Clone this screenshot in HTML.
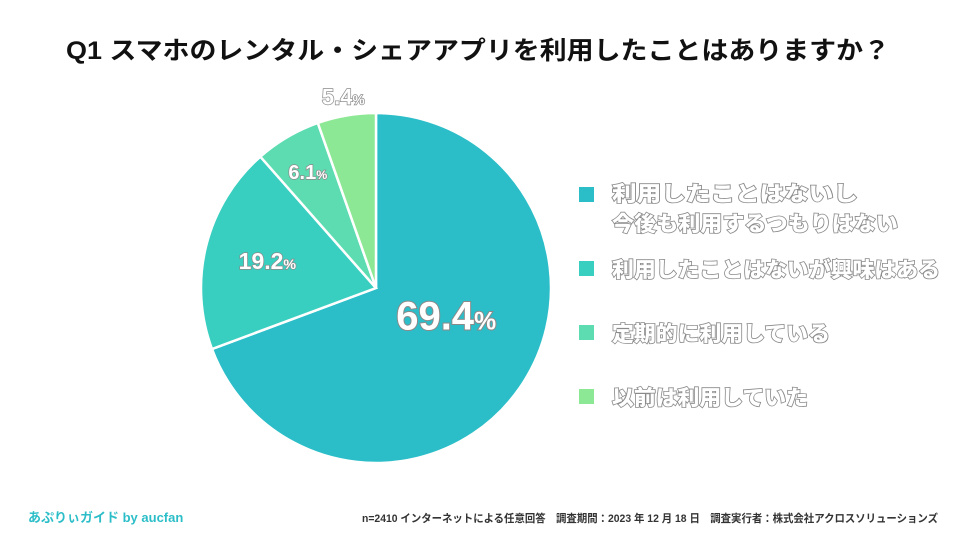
<!DOCTYPE html>
<html><head><meta charset="utf-8"><style>
html,body{margin:0;padding:0;background:#fff;}
svg{display:block;font-family:"Liberation Sans","Noto Sans CJK JP",sans-serif;}
.ol{fill:#fff;stroke:#8a8a8a;stroke-width:1.6;paint-order:stroke;font-weight:900;}
</style></head><body>
<svg width="961" height="541" viewBox="0 0 961 541">
<text x="66" y="59" font-size="25" font-weight="bold" fill="#111" textLength="824" lengthAdjust="spacingAndGlyphs">Q1 スマホのレンタル・シェアアプリを利用したことはありますか？</text>
<g id="slices"></g>
<g id="labels"></g>
<g>
<rect x="579" y="187" width="15" height="15" fill="#2bbec8"/>
<text class="ol" x="612" y="201" font-size="21" textLength="246" lengthAdjust="spacingAndGlyphs">利用したことはないし</text>
<text class="ol" x="612" y="231" font-size="21" textLength="286" lengthAdjust="spacingAndGlyphs">今後も利用するつもりはない</text>
<rect x="579" y="261" width="15" height="15" fill="#38cfc0"/>
<text class="ol" x="612" y="277" font-size="21" textLength="328" lengthAdjust="spacingAndGlyphs">利用したことはないが興味はある</text>
<rect x="579" y="325" width="15" height="15" fill="#5cdcb0"/>
<text class="ol" x="612" y="341" font-size="21" textLength="218" lengthAdjust="spacingAndGlyphs">定期的に利用している</text>
<rect x="579" y="389" width="15" height="15" fill="#8ce894"/>
<text class="ol" x="612" y="405" font-size="21" textLength="196" lengthAdjust="spacingAndGlyphs">以前は利用していた</text>
</g>
<text x="28" y="522" font-size="13" font-weight="bold" fill="#2bbec8">あぷりぃガイド by aucfan</text>
<text x="938" y="522" font-size="11" font-weight="bold" fill="#333" text-anchor="end" textLength="576" lengthAdjust="spacingAndGlyphs">n=2410 インターネットによる任意回答　調査期間：2023 年 12 月 18 日　調査実行者：株式会社アクロスソリューションズ</text>
</svg>
<script>
const categories = ["利用したことはないし今後も利用するつもりはない","利用したことはないが興味はある","定期的に利用している","以前は利用していた"];
const values = [69.4, 19.2, 6.1, 5.4];
const valueLabels = ["69.4","19.2","6.1","5.4"];
const colors = ["#2bbec8","#38cfc0","#5cdcb0","#8ce894"];
const cx=376, cy=288, R=175;
const NS="http://www.w3.org/2000/svg";
const total = values.reduce((a,b)=>a+b,0);
function pt(a,r){return [cx+r*Math.sin(a), cy-r*Math.cos(a)];}
const gS=document.getElementById('slices'), gL=document.getElementById('labels');
let acc=0;
const labelR=[0.53,0.64,0.77,1.11], sizes=[40,23,20,22], yShift=[-26,0,0,0], xShift=[-6,0,0,0];
values.forEach((v,i)=>{
  const a0=acc/total*2*Math.PI; acc+=v; const a1=acc/total*2*Math.PI;
  const p0=pt(a0,R), p1=pt(a1,R);
  const large=(a1-a0)>Math.PI?1:0;
  const p=document.createElementNS(NS,'path');
  p.setAttribute('d',`M${cx},${cy} L${p0[0]},${p0[1]} A${R},${R} 0 ${large} 1 ${p1[0]},${p1[1]} Z`);
  p.setAttribute('fill',colors[i]); p.setAttribute('stroke','#fff'); p.setAttribute('stroke-width','2.5');
  
  
  gS.appendChild(p);
  const am=(a0+a1)/2, lp=pt(am,R*labelR[i]);
  const t=document.createElementNS(NS,'text');
  t.setAttribute('x',lp[0]+xShift[i]); t.setAttribute('y',lp[1]+sizes[i]*0.36+yShift[i]);
  t.setAttribute('text-anchor','middle'); t.setAttribute('font-size',sizes[i]);
  t.setAttribute('font-weight','bold');
  t.setAttribute('fill','#fff');
  t.setAttribute('stroke', '#8a8a8a'); t.setAttribute('stroke-width', i===0?'2':'1.4');
  t.setAttribute('paint-order','stroke');
  
  
  t.innerHTML=valueLabels[i]+'<tspan font-size="'+(sizes[i]*0.62)+'">%</tspan>';
  gL.appendChild(t);
});
</script>
</body></html>
